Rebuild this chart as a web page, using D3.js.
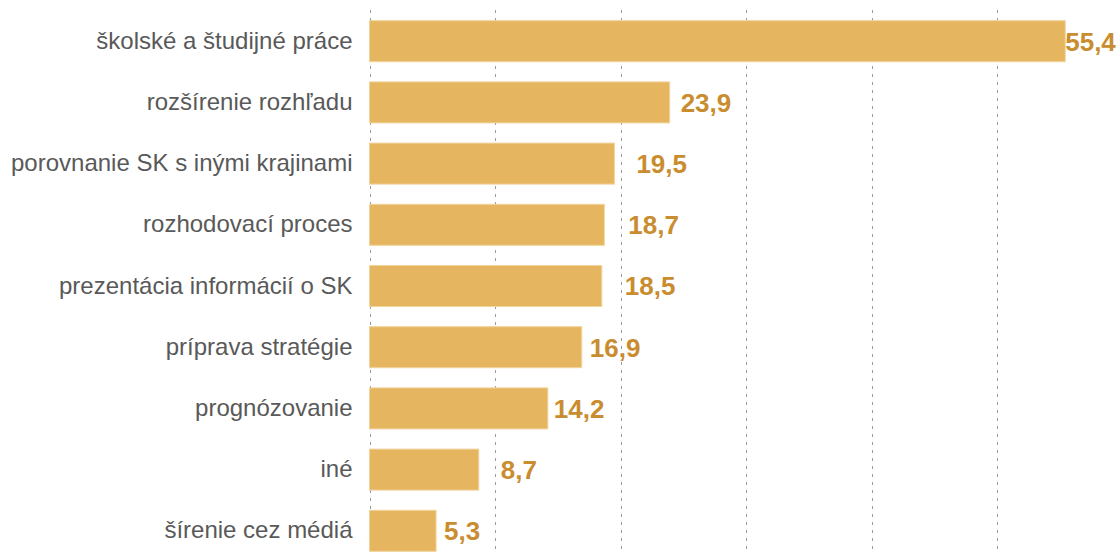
<!DOCTYPE html>
<html><head><meta charset="utf-8">
<script src="https://cdn.jsdelivr.net/npm/d3@7"></script>
<style>
html,body{margin:0;padding:0;background:#fff;}
svg{display:block;}
</style></head>
<body>
<svg id="chart" width="1120" height="554"></svg>
<script>
const categories = ["školské a študijné práce","rozšírenie rozhľadu","porovnanie SK s inými krajinami","rozhodovací proces","prezentácia informácií o SK","príprava stratégie","prognózovanie","iné","šírenie cez médiá"];
const values = [55.4, 23.9, 19.5, 18.7, 18.5, 16.9, 14.2, 8.7, 5.3];
const valueLabels = ["55,4","23,9","19,5","18,7","18,5","16,9","14,2","8,7","5,3"];
const gridTicks = [0, 10, 20, 30, 40, 50];
const labelNudge = [0, 11, 22, 24, 23, 8, 6, 22, 8];

const svg = d3.select("#chart");
const x = d3.scaleLinear().domain([0, 60]).range([369.5, 1123]);
const y = d3.scaleBand().domain(categories).range([10.6, 561.4]).paddingInner(0.33).paddingOuter(0.165);

svg.append("g").selectAll("line").data(gridTicks).join("line")
  .attr("x1", d => Math.round(x(d)) + 0.5).attr("x2", d => Math.round(x(d)) + 0.5)
  .attr("y1", 10).attr("y2", 554)
  .attr("stroke", "#9a9a9a").attr("stroke-width", 1).attr("stroke-dasharray", "3,5");

svg.append("g").selectAll("rect").data(values).join("rect")
  .attr("x", x(0)).attr("y", (d, i) => y(categories[i]))
  .attr("width", d => x(d) - x(0)).attr("height", y.bandwidth())
  .attr("fill", "#e6b55f").attr("stroke", "#f1d39c").attr("stroke-width", 1);

const yAxis = d3.axisLeft(y).tickSize(0).tickPadding(17);
const ax = svg.append("g").attr("transform", `translate(${x(0)},0)`).call(yAxis);
ax.select(".domain").remove();
ax.selectAll("text").attr("font-family", "Liberation Sans, Arial, sans-serif")
  .attr("font-size", 24).attr("fill", "#595959");

svg.append("g").selectAll("text").data(values).join("text")
  .attr("x", (d, i) => x(d) + labelNudge[i])
  .attr("y", (d, i) => y(categories[i]) + y.bandwidth() / 2)
  .attr("dy", "0.36em")
  .attr("font-family", "Liberation Sans, Arial, sans-serif")
  .attr("font-weight", "bold").attr("font-size", 26)
  .attr("fill", "#c98d30")
  .text((d, i) => valueLabels[i]);
</script>
</body></html>
